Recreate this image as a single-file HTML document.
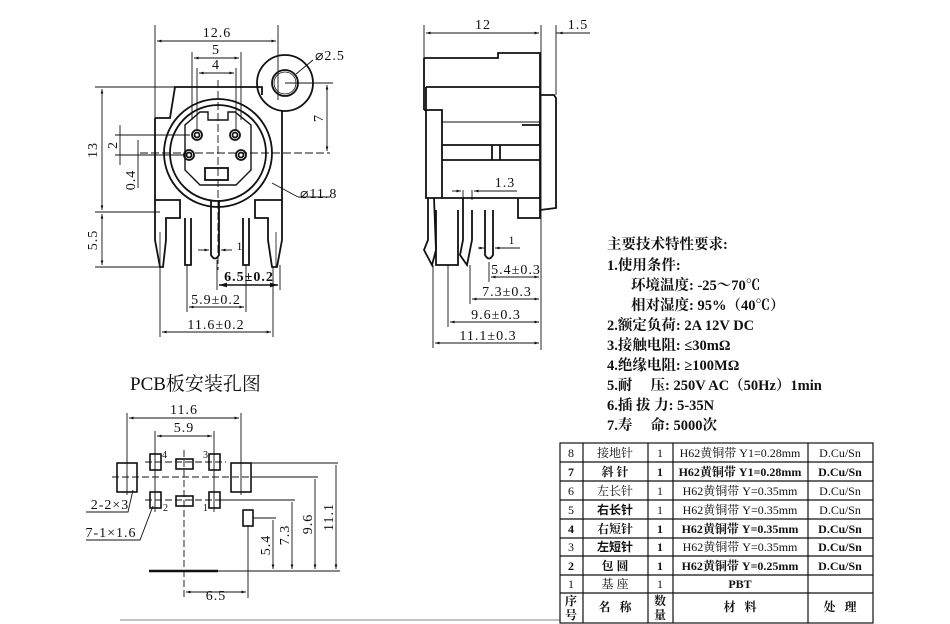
<!DOCTYPE html>
<html><head><meta charset="utf-8"><style>
html,body{margin:0;padding:0;background:#fff;}
svg{display:block;}
text{font-family:"Liberation Serif","Noto Serif CJK SC",serif;fill:#111;}
.b{font-family:"Liberation Serif","Noto Sans CJK SC",sans-serif;font-weight:bold;}
.d{letter-spacing:1px;}
</style></head><body>
<svg width="950" height="624" viewBox="0 0 950 624" xmlns="http://www.w3.org/2000/svg">
<defs>
<marker id="a" viewBox="0 0 10 10" refX="10" refY="5" markerWidth="7" markerHeight="5" orient="auto-start-reverse"><path d="M0,2 L10,5 L0,8z" fill="#111"/></marker>
</defs>
<g stroke="#111" fill="none" stroke-width="1.8">
<!-- FRONT VIEW -->
<path d="M155,118 L170,118 L175,87 L262,87 L262,95 M155,118 L155,240 L160,267 L163,267 L166,240 L166,218 L180,218 L180,200 L155,200"/>
<path d="M282,110 L282,210 L282,240 L277,267 L272,267 L268,240 L268,218 L255,218 L255,200 L282,200"/>
<circle cx="285" cy="83" r="28"/><circle cx="285" cy="83" r="13"/><circle cx="285" cy="83" r="11" stroke-width="0.8"/>
<circle cx="218" cy="153" r="54"/><circle cx="218" cy="153" r="48"/>
<path d="M185,125 L185,170 L200,185 L236,185 L251,170 L251,125 L235,112 L228,112 L228,120 L208,120 L208,112 L200,112 Z" stroke-width="1.4"/>
<circle cx="197" cy="135" r="5"/><circle cx="197" cy="135" r="2.5"/>
<circle cx="235" cy="135" r="5"/><circle cx="235" cy="135" r="2.5"/>
<circle cx="189" cy="155" r="5"/><circle cx="189" cy="155" r="2.5"/>
<circle cx="241" cy="155" r="5"/><circle cx="241" cy="155" r="2.5"/>
<rect x="205" y="168" width="23" height="12"/>
<path d="M211,200 L211,255 Q215,262 219,255 L219,200"/>
<path d="M185,218 L185,265 L191,265 L191,218 M243,218 L243,265 L249,265 L249,218"/>
<path d="M160,232 L160,267 M276,232 L276,267" stroke-width="0.8"/>
</g>
<g stroke="#111" fill="none" stroke-width="0.9">
<line x1="155" y1="25" x2="155" y2="118"/><line x1="278" y1="25" x2="278" y2="100"/>
<line x1="157" y1="41" x2="276" y2="41" marker-start="url(#a)" marker-end="url(#a)"/>
<line x1="192" y1="52" x2="192" y2="120"/><line x1="241" y1="52" x2="241" y2="120"/>
<line x1="194" y1="58" x2="239" y2="58" marker-start="url(#a)" marker-end="url(#a)"/>
<line x1="197" y1="68" x2="197" y2="130"/><line x1="236" y1="68" x2="236" y2="130"/>
<line x1="199" y1="73" x2="234" y2="73" marker-start="url(#a)" marker-end="url(#a)"/>
<line x1="218" y1="80" x2="218" y2="270" stroke-dasharray="8,3"/>
<line x1="140" y1="153" x2="330" y2="153" stroke-dasharray="8,3"/>
<line x1="95" y1="87" x2="175" y2="87"/><line x1="95" y1="212" x2="160" y2="212"/><line x1="95" y1="267" x2="160" y2="267"/>
<line x1="102" y1="89" x2="102" y2="210" marker-start="url(#a)" marker-end="url(#a)"/>
<line x1="102" y1="214" x2="102" y2="265" marker-start="url(#a)" marker-end="url(#a)"/>
<line x1="115" y1="135" x2="190" y2="135"/><line x1="115" y1="155" x2="185" y2="155"/>
<line x1="120" y1="125" x2="120" y2="165"/>
<line x1="138" y1="140" x2="138" y2="188"/>
<line x1="285" y1="83" x2="333" y2="83"/><line x1="327" y1="85" x2="327" y2="151" marker-start="url(#a)" marker-end="url(#a)"/>
<line x1="296" y1="74" x2="313" y2="60"/><line x1="272" y1="183" x2="298" y2="197"/><line x1="298" y1="197" x2="330" y2="197"/>
<line x1="217" y1="260" x2="217" y2="290"/><line x1="280" y1="265" x2="280" y2="290"/>
<line x1="219" y1="285" x2="278" y2="285" marker-start="url(#a)" marker-end="url(#a)" stroke-width="1.6"/>
<line x1="187" y1="265" x2="187" y2="312"/><line x1="246" y1="265" x2="246" y2="312"/>
<line x1="189" y1="307" x2="244" y2="307" marker-start="url(#a)" marker-end="url(#a)"/>
<line x1="160" y1="267" x2="160" y2="337"/><line x1="273" y1="267" x2="273" y2="337"/>
<line x1="162" y1="332" x2="271" y2="332" marker-start="url(#a)" marker-end="url(#a)"/>
<line x1="198" y1="250" x2="209" y2="250" marker-end="url(#a)"/><line x1="232" y1="250" x2="221" y2="250" marker-end="url(#a)"/>
</g>
<g font-size="14" text-anchor="middle" class="d">
<text x="217" y="37">12.6</text><text x="216" y="54">5</text><text x="216" y="69">4</text>
<text x="315" y="60" text-anchor="start">⌀2.5</text>
<text x="300" y="198" text-anchor="start">⌀11.8</text>
<text transform="translate(97,150) rotate(-90)">13</text>
<text transform="translate(97,240) rotate(-90)">5.5</text>
<text transform="translate(117,145) rotate(-90)">2</text>
<text transform="translate(135,180) rotate(-90)">0.4</text>
<text transform="translate(323,118) rotate(-90)">7</text>
<text x="240" y="250" font-size="12">1</text>
<text x="249" y="281" font-weight="bold">6.5±0.2</text>
<text x="216" y="304">5.9±0.2</text>
<text x="216" y="329">11.6±0.2</text>
</g>
<!-- SIDE VIEW -->
<g stroke="#111" fill="none" stroke-width="1.8">
<path d="M424,58 L498,58 L498,53 L540,53 L540,87 M424,58 L424,110 M426,87 L540,87 M426,87 L426,198 L540,198 L540,87"/>
<path d="M540,95 L554,95 L556,98 L556,208 L540,210"/>
<path d="M424,110 L442,110 L442,198 M442,145 L540,145 M442,160 L540,160 M492,145 L492,160 M500,145 L500,160 M522,125 L540,125 L540,145"/>
<path d="M518,198 L518,218 L540,218 L540,198"/>
<path d="M428,198 L428,240 L424,250 L432,265 L436,250 L434,198"/>
<path d="M463,198 L463,240 L460,255 L467,265 L472,240 L472,210"/>
<path d="M485,210 L485,255 Q489,262 493,255 L493,210"/>
<path d="M436,210 L436,265 L458,265 L458,210"/>
</g>
<g stroke="#111" fill="none" stroke-width="0.9">
<line x1="442" y1="122" x2="540" y2="122"/>
<line x1="424" y1="25" x2="424" y2="58"/><line x1="541" y1="25" x2="541" y2="350"/><line x1="556" y1="25" x2="556" y2="95"/>
<line x1="426" y1="33" x2="539" y2="33" marker-start="url(#a)" marker-end="url(#a)"/>
<line x1="566" y1="33" x2="558" y2="33" marker-end="url(#a)"/><line x1="556" y1="33" x2="590" y2="33"/>
<line x1="463" y1="190" x2="463" y2="200"/><line x1="472" y1="190" x2="472" y2="200"/>
<line x1="452" y1="191" x2="461" y2="191" marker-end="url(#a)"/><line x1="484" y1="191" x2="474" y2="191" marker-end="url(#a)"/><line x1="474" y1="191" x2="517" y2="191"/>
<line x1="478" y1="248" x2="484" y2="248" marker-end="url(#a)"/><line x1="505" y1="248" x2="495" y2="248" marker-end="url(#a)"/><line x1="495" y1="248" x2="520" y2="248"/>
<line x1="489" y1="262" x2="489" y2="282"/><line x1="491" y1="277" x2="539" y2="277" marker-start="url(#a)" marker-end="url(#a)"/>
<line x1="470" y1="265" x2="470" y2="304"/><line x1="472" y1="299" x2="539" y2="299" marker-start="url(#a)" marker-end="url(#a)"/>
<line x1="448" y1="265" x2="448" y2="327"/><line x1="450" y1="322" x2="539" y2="322" marker-start="url(#a)" marker-end="url(#a)"/>
<line x1="433" y1="265" x2="433" y2="348"/><line x1="435" y1="343" x2="539" y2="343" marker-start="url(#a)" marker-end="url(#a)"/>
</g>
<g font-size="14" text-anchor="middle" class="d">
<text x="483" y="29">12</text><text x="578" y="29">1.5</text>
<text x="505" y="187">1.3</text><text x="512" y="244" font-size="12">1</text>
<text x="516" y="274">5.4±0.3</text><text x="507" y="296">7.3±0.3</text>
<text x="496" y="319">9.6±0.3</text><text x="488" y="340">11.1±0.3</text>
</g>
<!-- SPECS -->
<g class="b" font-size="14.5">
<text x="607" y="249">主要技术特性要求:</text>
<text x="607" y="270">1.使用条件:</text>
<text x="631" y="290">环境温度: -25～70℃</text>
<text x="631" y="310">相对湿度: 95%（40℃）</text>
<text x="607" y="330">2.额定负荷: 2A 12V DC</text>
<text x="607" y="350">3.接触电阻: ≤30mΩ</text>
<text x="607" y="370">4.绝缘电阻: ≥100MΩ</text>
<text x="607" y="390">5.耐 &#160;&#160;&#160;&#160;压: 250V AC（50Hz）1min</text>
<text x="607" y="410">6.插 拔 力: 5-35N</text>
<text x="607" y="430">7.寿 &#160;&#160;&#160;&#160;命: 5000次</text>
</g>
<!-- TABLE -->
<g stroke="#111" stroke-width="1.2" fill="none">
<rect x="560" y="443" width="313" height="180"/>
<line x1="583" y1="443" x2="583" y2="623"/><line x1="648" y1="443" x2="648" y2="623"/>
<line x1="673" y1="443" x2="673" y2="623"/><line x1="808" y1="443" x2="808" y2="623"/>
<line x1="560" y1="462" x2="873" y2="462"/><line x1="560" y1="481" x2="873" y2="481"/>
<line x1="560" y1="500" x2="873" y2="500"/><line x1="560" y1="519" x2="873" y2="519"/>
<line x1="560" y1="538" x2="873" y2="538"/><line x1="560" y1="556" x2="873" y2="556"/>
<line x1="560" y1="575" x2="873" y2="575"/><line x1="560" y1="593" x2="873" y2="593"/>
<line x1="120" y1="620" x2="560" y2="620" stroke-width="0.6"/>
</g>
<g font-size="12" text-anchor="middle">
<text x="571" y="457">8</text><text x="615" y="457">接地针</text><text x="660" y="457">1</text><text x="740" y="457">H62黄铜带 Y1=0.28mm</text><text x="840" y="457">D.Cu/Sn</text>
<g class="b"><text x="571" y="476">7</text><text x="615" y="476">斜 针</text><text x="660" y="476">1</text><text x="740" y="476">H62黄铜带 Y1=0.28mm</text><text x="840" y="476">D.Cu/Sn</text></g>
<text x="571" y="495">6</text><text x="615" y="495">左长针</text><text x="660" y="495">1</text><text x="740" y="495">H62黄铜带 Y=0.35mm</text><text x="840" y="495">D.Cu/Sn</text>
<text x="571" y="514">5</text><text x="615" y="514" class="b">右长针</text><text x="660" y="514">1</text><text x="740" y="514">H62黄铜带 Y=0.35mm</text><text x="840" y="514">D.Cu/Sn</text>
<g class="b"><text x="571" y="533">4</text><text x="615" y="533">右短针</text><text x="660" y="533">1</text><text x="740" y="533">H62黄铜带 Y=0.35mm</text><text x="840" y="533">D.Cu/Sn</text></g>
<text x="571" y="551">3</text><text x="615" y="551" class="b">左短针</text><text x="660" y="551" class="b">1</text><text x="740" y="551">H62黄铜带 Y=0.35mm</text><text x="840" y="551" class="b">D.Cu/Sn</text>
<g class="b"><text x="571" y="570">2</text><text x="615" y="570">包 圆</text><text x="660" y="570">1</text><text x="740" y="570">H62黄铜带 Y=0.25mm</text><text x="840" y="570">D.Cu/Sn</text></g>
<text x="571" y="588">1</text><text x="615" y="588">基 座</text><text x="660" y="588">1</text><text x="740" y="588" class="b">PBT</text>
<g class="b"><text x="571" y="605">序</text><text x="571" y="619">号</text><text x="615" y="611">名 &#160; 称</text><text x="660" y="605">数</text><text x="660" y="619">量</text><text x="740" y="611">材 &#160; 料</text><text x="840" y="611">处 &#160; 理</text></g>
</g>
<!-- PCB -->
<text x="130" y="390" font-size="19">PCB板安装孔图</text>
<g stroke="#111" fill="none" stroke-width="1.6">
<rect x="117" y="463" width="20" height="29"/><rect x="231" y="463" width="20" height="29"/>
<rect x="150" y="454" width="11" height="16"/><rect x="209" y="454" width="11" height="16"/>
<rect x="150" y="492" width="11" height="16"/><rect x="209" y="492" width="11" height="16"/>
<rect x="176" y="459" width="17" height="10"/><rect x="176" y="496" width="17" height="10"/>
<rect x="243" y="510" width="10" height="16"/>
<line x1="149" y1="571" x2="218" y2="571" stroke-width="2.5"/>
</g>
<g stroke="#111" fill="none" stroke-width="0.9">
<line x1="184" y1="450" x2="184" y2="598" stroke-dasharray="7,3"/>
<line x1="112" y1="477" x2="256" y2="477" stroke-dasharray="7,3"/>
<line x1="145" y1="462" x2="226" y2="462" stroke-dasharray="7,3"/>
<line x1="145" y1="500" x2="226" y2="500" stroke-dasharray="7,3"/>
<line x1="127" y1="413" x2="127" y2="495"/><line x1="241" y1="413" x2="241" y2="495"/>
<line x1="129" y1="418" x2="239" y2="418" marker-start="url(#a)" marker-end="url(#a)"/>
<line x1="155" y1="431" x2="155" y2="512"/><line x1="214" y1="431" x2="214" y2="512"/>
<line x1="157" y1="436" x2="212" y2="436" marker-start="url(#a)" marker-end="url(#a)"/>
<line x1="251" y1="463" x2="338" y2="463"/><line x1="251" y1="477" x2="318" y2="477"/>
<line x1="222" y1="500" x2="295" y2="500"/><line x1="253" y1="518" x2="276" y2="518"/>
<line x1="273" y1="520" x2="273" y2="569" marker-end="url(#a)"/>
<line x1="292" y1="502" x2="292" y2="569" marker-end="url(#a)"/>
<line x1="315" y1="479" x2="315" y2="569" marker-end="url(#a)"/>
<line x1="336" y1="465" x2="336" y2="569" marker-end="url(#a)"/>
<line x1="218" y1="571" x2="340" y2="571"/>
<line x1="248" y1="526" x2="248" y2="598"/>
<line x1="186" y1="592" x2="246" y2="592" marker-start="url(#a)" marker-end="url(#a)"/>
<polyline points="86,512 128,512 133,490"/>
<polyline points="86,540 140,540 153,506"/>
</g>
<g font-size="14" text-anchor="middle" class="d">
<text x="184" y="414">11.6</text><text x="184" y="432">5.9</text>
<text x="110" y="509">2-2×3</text><text x="111" y="537">7-1×1.6</text>
<text x="216" y="600">6.5</text>
<text transform="translate(270,545) rotate(-90)">5.4</text>
<text transform="translate(289,535) rotate(-90)">7.3</text>
<text transform="translate(312,524) rotate(-90)">9.6</text>
<text transform="translate(333,517) rotate(-90)">11.1</text>
</g>
<g font-size="10"><text x="162" y="458">4</text><text x="203" y="458">3</text><text x="163" y="511">2</text><text x="203" y="511">1</text></g>
</svg>
</body></html>
